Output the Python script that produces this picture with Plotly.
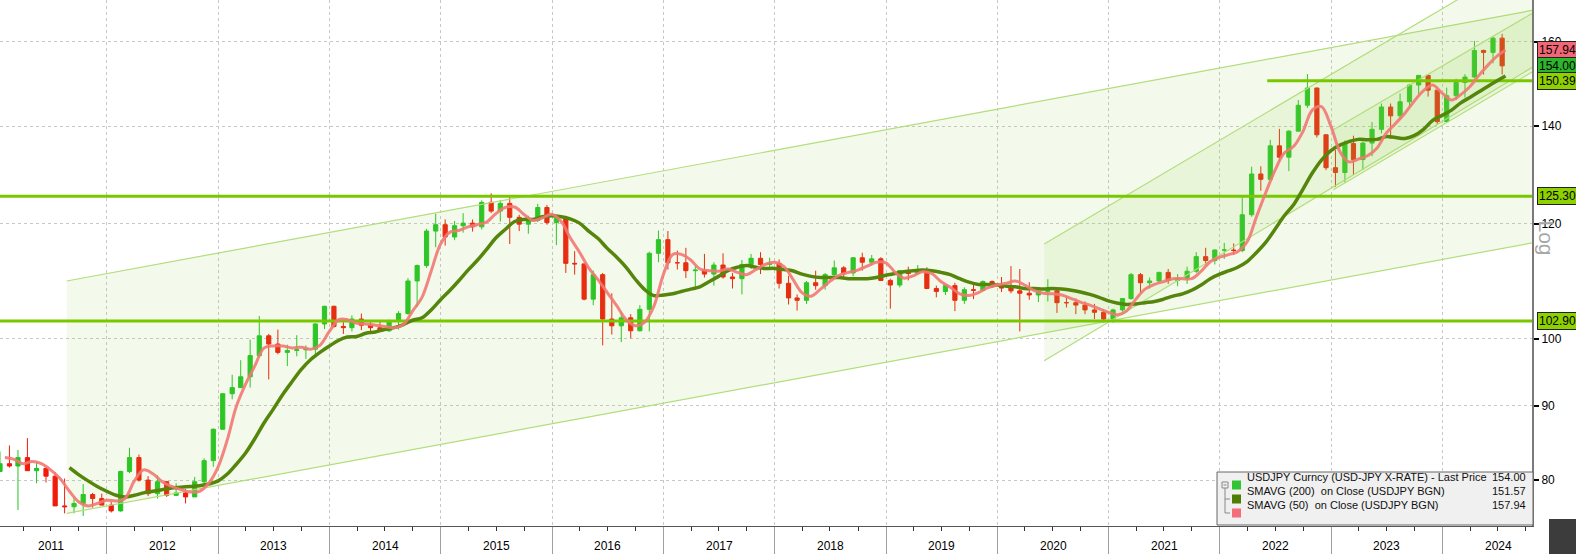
import numpy as np
import pandas as pd
import plotly.graph_objects as go

# ---------------- data ----------------
candle_start = '2011-01-01'
open_ = [81.1, 82.1, 81.8, 82.9, 81.2, 81.5, 80.5, 76.8, 76.7, 77.1, 78.2, 77.7,
         76.9, 76.2, 81.1, 82.9, 80.0, 78.3, 79.8, 78.1, 78.4, 77.9, 79.8, 82.5,
         86.7, 91.7, 92.6, 94.2, 97.4, 100.5, 99.2, 97.9, 98.2, 98.3, 98.4, 102.4,
         105.3, 102.0, 101.8, 103.2, 102.2, 101.8, 101.3, 102.8, 104.1, 109.6, 112.3, 118.6,
         119.8, 117.5, 119.6, 120.1, 119.4, 124.1, 122.4, 123.9, 121.2, 119.9, 120.6, 123.1,
         120.2, 121.0, 112.7, 112.6, 106.5, 110.7, 103.2, 102.1, 103.4, 101.3, 104.8, 114.5,
         117.0, 112.8, 112.8, 111.4, 111.5, 110.8, 112.4, 110.3, 110.0, 112.5, 113.6, 112.5,
         112.7, 109.2, 106.7, 106.3, 109.3, 108.8, 110.7, 111.9, 111.0, 113.7, 112.9, 113.5,
         109.7, 108.9, 111.4, 110.9, 111.4, 108.3, 107.8, 108.8, 106.3, 108.1, 108.0, 109.5,
         108.6, 108.4, 107.9, 107.5, 107.2, 107.8, 107.9, 105.9, 105.9, 105.5, 104.7, 104.3,
         103.2, 104.7, 106.6, 110.7, 109.3, 109.6, 111.1, 109.7, 110.0, 111.3, 113.9, 113.2,
         115.1, 115.1, 115.0, 121.7, 129.8, 128.7, 135.7, 133.3, 138.9, 144.7, 148.7, 138.1,
         131.1, 130.1, 136.2, 132.8, 136.3, 139.3, 144.3, 142.3, 145.5, 149.4, 151.7, 148.2,
         141.0, 146.9, 150.0, 151.3, 157.8, 157.3, 160.9]
high = [83.7, 84.5, 83.9, 85.5, 82.2, 81.6, 81.0, 80.2, 77.9, 79.5, 78.4, 78.3,
        77.3, 81.2, 84.2, 83.3, 80.5, 80.6, 79.9, 79.6, 78.9, 80.4, 82.8, 86.8,
        91.8, 94.5, 96.7, 99.9, 103.7, 100.8, 101.5, 99.1, 100.6, 99.0, 102.5, 105.4,
        105.4, 102.7, 103.8, 104.1, 102.8, 102.8, 103.1, 104.5, 110.1, 112.5, 119.0, 121.9,
        120.8, 120.5, 122.0, 120.8, 124.5, 125.9, 124.6, 125.3, 121.7, 121.5, 123.8, 123.6,
        121.7, 121.5, 114.9, 112.7, 111.4, 111.0, 107.5, 104.3, 104.0, 105.5, 114.8, 118.7,
        118.6, 115.0, 115.5, 112.2, 114.4, 112.9, 114.5, 111.0, 113.3, 114.4, 114.7, 113.7,
        113.4, 110.5, 107.3, 109.6, 111.4, 111.0, 113.2, 112.2, 113.8, 114.6, 114.2, 113.8,
        110.0, 111.5, 112.1, 112.4, 112.0, 108.8, 109.0, 109.3, 108.5, 109.3, 109.7, 109.7,
        110.3, 112.2, 111.7, 109.4, 108.1, 109.9, 108.2, 107.0, 106.6, 106.1, 105.7, 104.8,
        104.9, 106.7, 111.0, 111.0, 110.2, 111.2, 111.7, 110.8, 112.1, 114.7, 115.5, 115.2,
        116.4, 116.3, 125.1, 131.3, 131.4, 137.0, 139.4, 139.1, 145.9, 152.0, 148.8, 138.2,
        134.8, 136.9, 137.9, 136.6, 140.9, 145.1, 145.1, 147.4, 149.7, 151.8, 151.9, 148.3,
        148.8, 150.9, 152.0, 160.2, 158.0, 161.3, 162.0]
low = [81.4, 81.6, 76.3, 81.2, 79.6, 79.7, 76.9, 75.9, 75.9, 75.6, 76.6, 76.9,
       76.0, 76.1, 80.9, 79.8, 78.0, 77.7, 77.9, 78.0, 77.1, 77.9, 79.0, 81.7,
       86.6, 90.9, 93.4, 92.6, 97.1, 93.8, 97.6, 95.8, 97.3, 96.9, 97.6, 101.6,
       101.8, 100.8, 101.2, 101.4, 100.8, 101.2, 101.1, 101.5, 103.9, 105.2, 111.9, 115.6,
       115.9, 116.9, 118.3, 118.5, 118.9, 122.0, 120.4, 116.2, 118.6, 118.1, 120.3, 119.8,
       116.0, 111.0, 110.7, 106.3, 105.5, 99.0, 100.7, 99.5, 100.1, 101.2, 101.2, 112.9,
       111.6, 111.6, 110.1, 108.1, 110.2, 108.8, 110.0, 108.3, 107.3, 111.7, 110.8, 111.9,
       108.3, 105.6, 104.6, 105.7, 108.1, 108.1, 110.3, 109.8, 110.4, 111.4, 112.3, 109.6,
       104.9, 108.5, 109.7, 110.8, 108.2, 106.8, 107.2, 104.5, 105.7, 106.5, 107.9, 108.4,
       107.7, 107.5, 101.2, 106.4, 106.0, 106.1, 104.2, 105.1, 104.0, 104.0, 103.2, 102.6,
       102.6, 104.4, 106.4, 107.5, 108.3, 109.2, 109.1, 108.7, 109.1, 111.0, 112.5, 112.5,
       113.5, 114.2, 114.7, 121.3, 126.4, 128.6, 132.5, 130.4, 138.8, 144.1, 137.5, 130.6,
       127.2, 128.1, 129.6, 130.6, 133.5, 138.4, 137.2, 141.5, 144.4, 147.3, 146.7, 140.3,
       140.8, 145.9, 146.5, 151.0, 151.9, 154.6, 151.9]
close = [82.1, 81.8, 82.9, 81.2, 81.5, 80.5, 76.8, 76.7, 77.1, 78.2, 77.7, 76.9,
         76.2, 81.1, 82.9, 80.0, 78.3, 79.8, 78.1, 78.4, 77.9, 79.8, 82.5, 86.7,
         91.7, 92.6, 94.2, 97.4, 100.5, 99.2, 97.9, 98.2, 98.3, 98.4, 102.4, 105.3,
         102.0, 101.8, 103.2, 102.2, 101.8, 101.3, 102.8, 104.1, 109.6, 112.3, 118.6, 119.8,
         117.5, 119.6, 120.1, 119.4, 124.1, 122.4, 123.9, 121.2, 119.9, 120.6, 123.1, 120.2,
         121.0, 112.7, 112.6, 106.5, 110.7, 103.2, 102.1, 103.4, 101.3, 104.8, 114.5, 117.0,
         112.8, 112.8, 111.4, 111.5, 110.8, 112.4, 110.3, 110.0, 112.5, 113.6, 112.5, 112.7,
         109.2, 106.7, 106.3, 109.3, 108.8, 110.7, 111.9, 111.0, 113.7, 112.9, 113.5, 109.7,
         108.9, 111.4, 110.9, 111.4, 108.3, 107.8, 108.8, 106.3, 108.1, 108.0, 109.5, 108.6,
         108.4, 107.9, 107.5, 107.2, 107.8, 107.9, 105.9, 105.9, 105.5, 104.7, 104.3, 103.2,
         104.7, 106.6, 110.7, 109.3, 109.6, 111.1, 109.7, 110.0, 111.3, 113.9, 113.2, 115.1,
         115.1, 115.0, 121.7, 129.8, 128.7, 135.7, 133.3, 138.9, 144.7, 148.7, 138.1, 131.1,
         130.1, 136.2, 132.8, 136.3, 139.3, 144.3, 142.3, 145.5, 149.4, 151.7, 148.2, 141.0,
         146.9, 150.0, 151.3, 157.8, 157.3, 160.9, 154.0]

sma200_start = '2011-08'
sma200 = [81.6, 80.7, 79.9, 79.2, 78.6,
          78.1, 77.9, 78.1, 78.4, 78.6, 78.8, 79.0, 79.1, 79.2, 79.3, 79.5, 79.9,
          80.8, 82.0, 83.5, 85.4, 87.6, 89.5, 91.6, 93.5, 95.3, 96.8, 97.9, 98.9,
          99.8, 100.3, 100.4, 100.9, 101.1, 101.5, 101.8, 102.3, 103.0, 103.4, 104.7, 106.4,
          108.0, 109.6, 111.5, 113.2, 115.2, 117.3, 118.9, 120.4, 120.8, 120.8, 121.3, 121.5,
          121.3, 120.9, 120.1, 118.6, 117.2, 115.4, 113.8, 112.0, 109.9, 108.1, 107.1, 107.2,
          107.4, 107.8, 108.2, 108.6, 109.5, 110.4, 111.4, 112.0, 112.3, 112.0, 111.8, 111.8,
          111.6, 111.4, 110.8, 110.4, 110.2, 110.2, 110.2, 110.0, 110.0, 110.0, 110.2, 110.6,
          110.9, 111.2, 111.4, 111.5, 111.4, 111.1, 110.7, 110.0, 109.4, 109.0, 109.0, 108.9,
          108.7, 108.6, 108.3, 108.3, 108.2, 108.3, 108.2, 108.0, 107.7, 107.3, 106.8, 106.2,
          105.8, 105.6, 105.7, 105.9, 106.1, 106.5, 107.0, 107.4, 108.0, 108.9, 110.0, 110.8,
          111.4, 112.0, 113.0, 114.6, 116.5, 118.9, 121.5, 123.7, 126.7, 130.0, 132.7, 134.7,
          135.9, 136.6, 137.1, 137.0, 137.1, 137.7, 137.5, 137.3, 137.9, 139.3, 141.3, 142.4,
          143.6, 145.2, 146.5, 147.8, 149.2, 150.5, 151.57]
sma50_start = '2011-01'
sma50 = [82.9, 82.7, 82.1, 82.4, 82.1, 81.3, 80.2, 78.6, 77.3, 76.8, 77.1, 77.5,
         77.4, 77.7, 79.9, 81.3, 80.8, 79.8, 79.2, 78.8, 78.5, 78.6, 79.6, 81.7,
         85.4, 89.8, 93.1, 95.8, 98.6, 98.9, 98.9, 98.6, 98.7, 98.4, 99.0, 101.2,
         103.1, 103.1, 102.5, 102.4, 102.2, 102.0, 101.8, 102.3, 104.5, 106.8, 111.3, 116.2,
         118.4, 118.7, 119.4, 119.8, 120.3, 121.9, 123.1, 123.2, 121.8, 120.6, 121.1, 121.8,
         120.4, 117.4, 114.7, 111.9, 109.8, 107.6, 105.4, 103.1, 102.1, 102.7, 105.3, 110.7,
         114.3, 114.3, 113.3, 111.7, 111.4, 111.3, 111.7, 111.1, 110.7, 111.6, 112.5, 112.9,
         112.1, 110.0, 107.6, 107.0, 108.2, 109.5, 110.6, 111.1, 111.5, 112.2, 112.9, 112.8,
         111.1, 110.1, 110.5, 111.2, 110.9, 109.5, 108.5, 107.4, 107.1, 107.6, 108.4, 108.9,
         109.2, 109.6, 108.9, 108.0, 107.5, 107.4, 107.2, 106.6, 106.0, 105.5, 104.9, 104.3,
         103.9, 104.5, 106.5, 108.2, 109.0, 109.5, 110.0, 110.0, 110.0, 111.3, 113.0, 113.8,
         114.3, 114.8, 116.6, 121.2, 126.0, 130.5, 134.2, 135.6, 138.8, 143.6, 144.4, 140.0,
         134.3, 132.3, 132.9, 133.6, 135.2, 138.4, 140.6, 142.9, 145.6, 148.1, 149.4, 147.5,
         145.9, 147.1, 149.0, 151.7, 154.3, 156.5, 157.94]
last_date = '2024-07-26'

# horizontal levels
levels = [125.30, 102.90, 150.39]
level_start = ['2011-01-15', '2011-01-15', '2022-06-05']
# trend channels: start/end dates and upper/lower price at those dates
ch_dates = [['2011-08-22', '2024-10-21'], ['2020-06-03', '2024-10-21'], ['2023-01-08', '2024-10-21']]
ch_upper = [[109.6, 168.1], [116.2, 183.3], [139.2, 167.3]]
ch_lower = [[75.9, 116.4], [96.6, 153.6], [126.6, 152.5]]

# right-hand price tags
tag_values = [157.94, 154.00, 150.39, 125.30, 102.90]
tag_colors = ['#f26675', '#2db52d', '#8ed100', '#8ed100', '#8ed100']

years = list(range(2011, 2025))
ytick_vals = [80, 90, 100, 120, 140, 160]

legend_rows = [('USDJPY Curncy (USD-JPY X-RATE) - Last Price', '154.00', '#33c433'),
               ('SMAVG (200)  on Close (USDJPY BGN)', '151.57', '#4e7d05'),
               ('SMAVG (50)  on Close (USDJPY BGN)', '157.94', '#f46d7b')]

# ---------------- figure ----------------
W, H = 1576, 554
ML, MR, MT, MB = 0, 44, 0, 28
PW, PH = W - ML - MR, H - MT - MB
x_range = ['2011-01-15', '2024-10-21']
y_range = [np.log10(74.4), np.log10(170.9)]

def px(x):
    return x / PW

def py(y):
    return 1 - y / PH

cdates = pd.date_range(candle_start, periods=len(close), freq='MS') + pd.Timedelta(days=14)
s200_dates = list(pd.date_range(sma200_start + '-01', periods=len(sma200), freq='MS') + pd.offsets.MonthEnd(0))
s200_dates[-1] = pd.Timestamp(last_date)
s50_dates = list(pd.date_range(sma50_start + '-01', periods=len(sma50), freq='MS') + pd.offsets.MonthEnd(0))
s50_dates[-1] = pd.Timestamp(last_date)

fig = go.Figure()

fill_col = 'rgba(150, 205, 70, 0.11)'
edge_col = '#b3dd7d'
for d, u, l in zip(ch_dates, ch_upper, ch_lower):
    fig.add_trace(go.Scatter(x=[d[0], d[1], d[1], d[0], d[0]], y=[u[0], u[1], l[1], l[0], u[0]],
                             mode='lines', fill='toself', fillcolor=fill_col,
                             line=dict(width=0), hoverinfo='skip', showlegend=False))
    fig.add_trace(go.Scatter(x=d, y=u, mode='lines', line=dict(color=edge_col, width=1.2),
                             hoverinfo='skip', showlegend=False))
    fig.add_trace(go.Scatter(x=d, y=l, mode='lines', line=dict(color=edge_col, width=1.2),
                             hoverinfo='skip', showlegend=False))

for lv, st in zip(levels, level_start):
    fig.add_trace(go.Scatter(x=[st, x_range[1]], y=[lv, lv], mode='lines',
                             line=dict(color='#78c800', width=3), hoverinfo='skip', showlegend=False))

fig.add_trace(go.Candlestick(x=cdates, open=open_, high=high, low=low, close=close,
                             increasing=dict(line=dict(color='#22c422', width=1), fillcolor='#22c422'),
                             decreasing=dict(line=dict(color='#f21a0a', width=1), fillcolor='#f21a0a'),
                             whiskerwidth=0, showlegend=False))

fig.add_trace(go.Scatter(x=s200_dates, y=sma200, mode='lines', line=dict(color='#55850a', width=3.5, shape='spline'),
                         showlegend=False))
fig.add_trace(go.Scatter(x=s50_dates, y=sma50, mode='lines', line=dict(color='rgba(242,120,115,0.9)', width=3, shape='spline'),
                         showlegend=False))

# tag pointers
fig.add_trace(go.Scatter(x=['2024-11-03'] * len(tag_values), y=tag_values, mode='markers',
                         marker=dict(symbol='triangle-left', size=10, color=tag_colors,
                                     line=dict(color='#222', width=1)),
                         cliponaxis=False, hoverinfo='skip', showlegend=False))

annotations = []
for v, c in zip(tag_values, tag_colors):
    annotations.append(dict(x=1, xref='paper', xanchor='left', xshift=5, y=np.log10(v), yref='y',
                            text=f'{v:.2f}', showarrow=False, bgcolor=c, bordercolor='#222',
                            borderwidth=1, borderpad=1, font=dict(size=12, color='black')))
for yr in years:
    annotations.append(dict(x=f'{yr}-07-02', xref='x', y=0, yref='paper', yanchor='top', yshift=-11,
                            text=str(yr), showarrow=False, font=dict(size=12, color='black')))
annotations.append(dict(x=1, xref='paper', xshift=28, y=py(238), yref='paper', text='Log', textangle=90,
                        showarrow=False, font=dict(size=21, color='#a6a6a6')))

# legend box
shapes = [dict(type='rect', xref='paper', yref='paper', x0=px(1217), x1=px(1533), y0=py(525), y1=py(472),
               fillcolor='#f0f0f0', line=dict(color='#666', width=1), layer='above')]
row_y = [485, 499, 513]
for (txt, val, col), ry in zip(legend_rows, row_y):
    shapes.append(dict(type='rect', xref='paper', yref='paper', x0=px(1232), x1=px(1241),
                       y0=py(ry + 4.5), y1=py(ry - 4.5), fillcolor=col, line=dict(width=0), layer='above'))
    annotations.append(dict(x=px(1245), xref='paper', xanchor='left', y=py(ry), yref='paper',
                            text=txt, showarrow=False, font=dict(size=11, color='#111')))
    annotations.append(dict(x=px(1528), xref='paper', xanchor='right', y=py(ry), yref='paper',
                            text=val, showarrow=False, font=dict(size=11, color='#111')))
# tree connector
shapes.append(dict(type='rect', xref='paper', yref='paper', x0=px(1222), x1=px(1228), y0=py(488), y1=py(482),
                   line=dict(color='#888', width=1), fillcolor='#f0f0f0', layer='above'))
shapes.append(dict(type='line', xref='paper', yref='paper', x0=px(1223.5), x1=px(1226.5), y0=py(485), y1=py(485),
                   line=dict(color='#888', width=1), layer='above'))
shapes.append(dict(type='line', xref='paper', yref='paper', x0=px(1225), x1=px(1225), y0=py(488), y1=py(513),
                   line=dict(color='#888', width=1), layer='above'))
for ry in row_y[1:]:
    shapes.append(dict(type='line', xref='paper', yref='paper', x0=px(1225), x1=px(1230), y0=py(ry), y1=py(ry),
                       line=dict(color='#888', width=1), layer='above'))
# corner icon
shapes.append(dict(type='rect', xref='paper', yref='paper', x0=px(1549), x1=px(1580), y0=py(556), y1=py(519),
                   fillcolor='#3c3c3c', line=dict(width=0), layer='above'))

fig.update_layout(
    width=W, height=H, autosize=False,
    margin=dict(l=ML, r=MR, t=MT, b=MB, pad=0),
    paper_bgcolor='white', plot_bgcolor='white',
    font=dict(family='Liberation Sans, Arial, sans-serif', size=12, color='black'),
    showlegend=False, hovermode=False,
    annotations=annotations, shapes=shapes,
    xaxis=dict(type='date', range=x_range, rangeslider=dict(visible=False),
               tickvals=[f'{y}-01-01' for y in years[1:]], showticklabels=False,
               ticks='outside', ticklen=28, tickcolor='#a0a0a0', tickwidth=1,
               showgrid=True, gridcolor='#c8c8c8', griddash='dot', gridwidth=1,
               showline=True, linecolor='#555', linewidth=1,
               minor=dict(dtick='M3', tick0='2011-01-01', ticks='outside', ticklen=4,
                          tickcolor='#333', showgrid=False),
               zeroline=False, fixedrange=True),
    yaxis=dict(type='log', side='right', range=y_range, tickvals=ytick_vals,
               ticktext=[str(v) for v in ytick_vals], ticks='outside', ticklen=5,
               tickcolor='black', tickwidth=2, showline=True, linecolor='#7a7a7a', linewidth=2,
               showgrid=True, gridcolor='#c8c8c8', griddash='dot', gridwidth=1,
               tickfont=dict(size=12, color='black'), zeroline=False, fixedrange=True),
)

fig.write_html('out.html', config={'displayModeBar': False},
               post_script="document.body.style.margin='0';document.body.style.padding='0';"
                           "document.body.style.overflow='hidden';"
                           "document.documentElement.style.overflow='hidden';")
